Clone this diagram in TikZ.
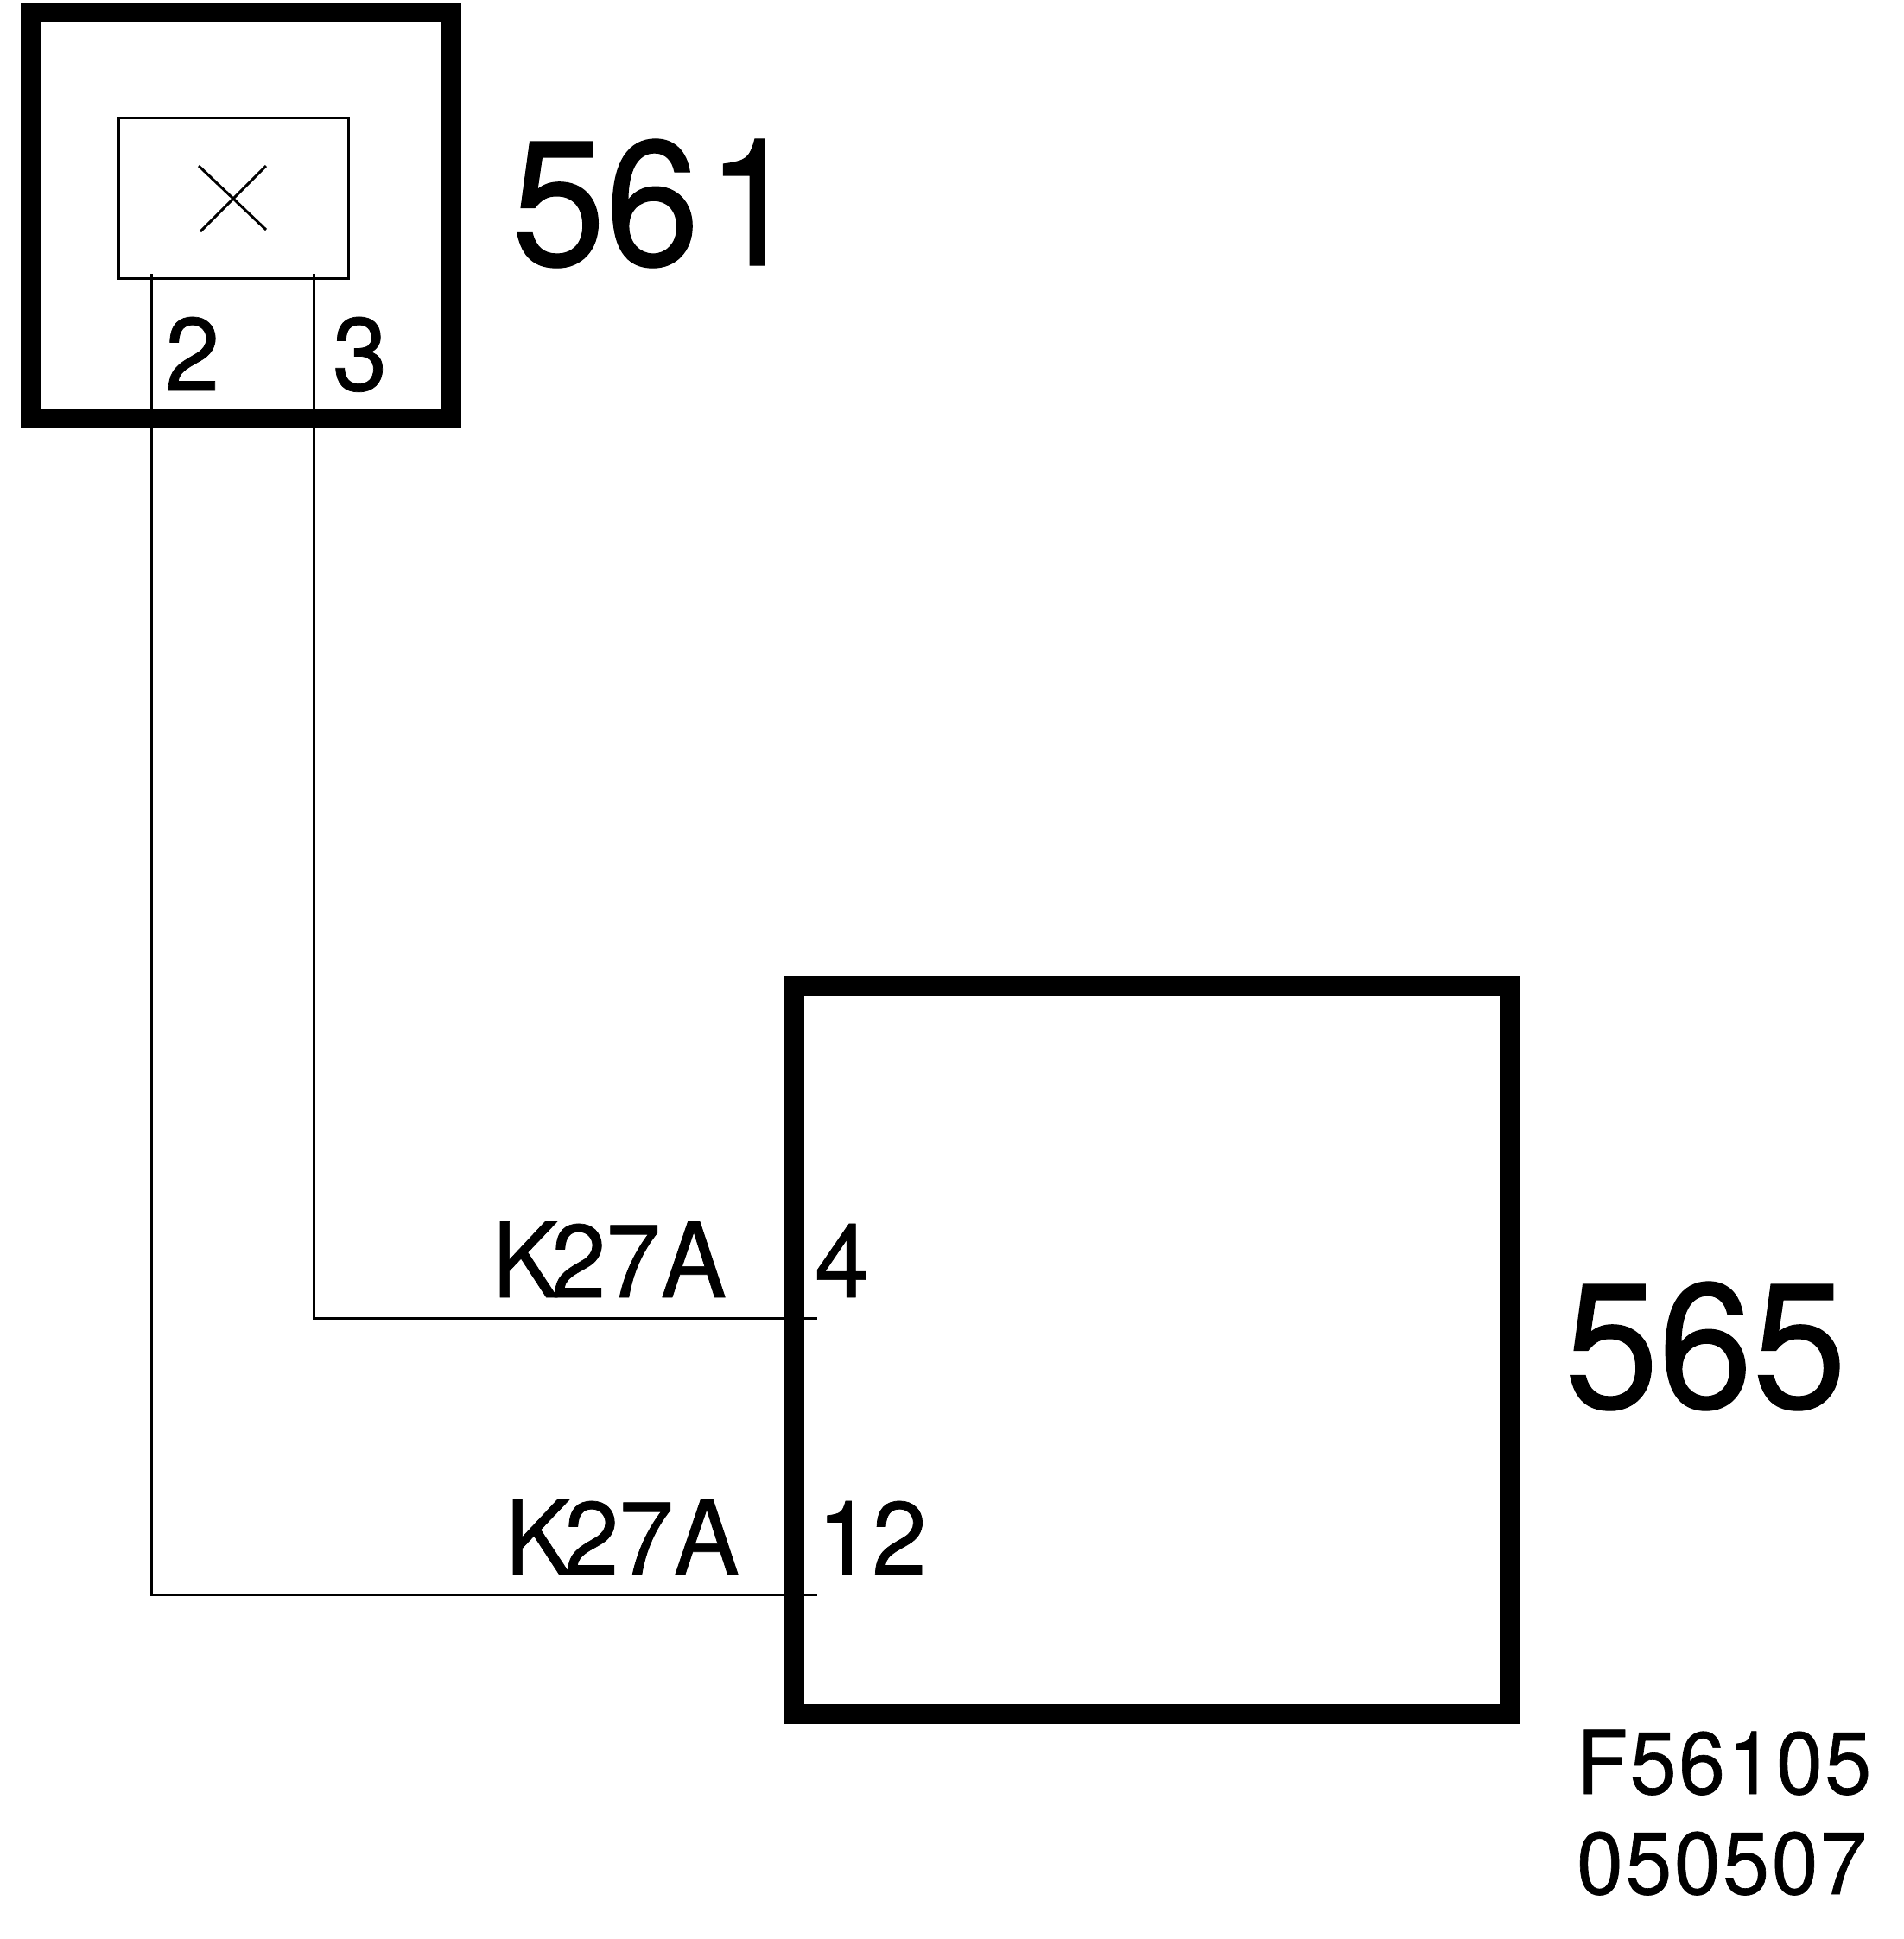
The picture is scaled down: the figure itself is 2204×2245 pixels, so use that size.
\documentclass[tikz,border=0pt]{standalone}
\usepackage{fontspec}
\setmainfont[FakeBold=0.6,FakeStretch=0.95]{TeX Gyre Heros}
\tikzset{
  heavybox/.style={draw=black,line width=11.5pt,inner sep=0pt,outer sep=0pt,fill=none},
  thinbox/.style={draw=black,line width=1.5pt,inner sep=0pt,outer sep=0pt,fill=none},
  wire/.style={draw=black,line width=1.5pt},
  lbl/.style={anchor=base west,inner sep=0pt,outer sep=0pt,text=black},
  huge/.style={lbl,font=\fontsize{103}{103}\selectfont},
  mid/.style={lbl,font=\fontsize{60}{60}\selectfont},
  small/.style={lbl,font=\fontsize{51}{51}\selectfont\addfontfeature{LetterSpace=2.5}},
}
\begin{document}
\begin{tikzpicture}[x=0.5pt,y=-0.5pt]
\path[use as bounding box,fill=white] (0,0) rectangle (2204,2245);
% boxes
\node[heavybox,minimum width=243.5pt,minimum height=235pt] (b561) at (278.5,249) {};
\node[thinbox,minimum width=133pt,minimum height=93pt] (relay) at (270,229) {};
\node[heavybox,minimum width=414pt,minimum height=421.5pt] (b565) at (1333,1563) {};
% cross
\coordinate (xa) at (230,192);
\coordinate (xb) at (308,266);
\coordinate (xc) at (308,192);
\coordinate (xd) at (232,268);
\draw[wire] (xa) -- (xb);
\draw[wire] (xc) -- (xd);
% wires
\coordinate (w2a) at (175,317);
\coordinate (w2b) at (175,1846);
\coordinate (w2c) at (946,1846);
\coordinate (w3a) at (363,317);
\coordinate (w3b) at (363,1526);
\coordinate (w3c) at (946,1526);
\draw[wire] (w2a) -- (w2b) -- (w2c);
\draw[wire] (w3a) -- (w3b) -- (w3c);
% labels
\node[huge] (t561) at (592,307) {56\kern4pt 1};
\node[huge] (t565) at (1811,1630) {565};
\node[mid] (t2) at (191,452) {2};
\node[mid] (t3) at (385,452) {3};
\node[mid] (t4) at (943,1502) {4};
\node[mid] (t12) at (946,1823) {12};
\node[mid] (k1) at (570,1502) {K\kern-4pt 27A};
\node[mid] (k2) at (585,1823) {K\kern-4pt 27A};
\node[small] (f1) at (1825,2077) {F56105};
\node[small] (f2) at (1825,2193) {050507};
\end{tikzpicture}
\end{document}
